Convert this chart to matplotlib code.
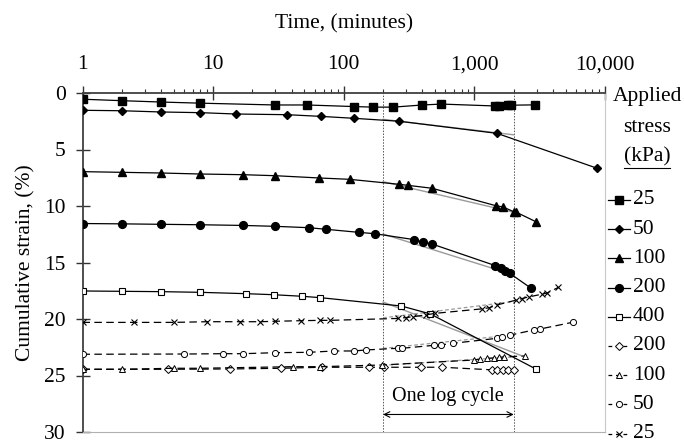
import matplotlib
matplotlib.use('Agg')
import matplotlib.pyplot as plt
from matplotlib.lines import Line2D
from matplotlib.ticker import FixedLocator, LogLocator, NullFormatter, FuncFormatter

plt.rcParams['font.family'] = ['Liberation Serif', 'DejaVu Serif']

# ---------------- data ----------------
# solid series (filled markers)
t25 = [1, 2, 4, 8, 30, 52, 120, 167, 240, 400, 560, 1450, 1550, 1800, 1900, 2900]
s25 = [0.55, 0.68, 0.8, 0.9, 1.06, 1.06, 1.2, 1.25, 1.25, 1.06, 0.98, 1.15, 1.15, 1.08, 1.08, 1.05]

t50 = [1, 2, 4, 8, 15, 37, 67, 120, 266, 1490, 8700]
s50 = [1.53, 1.57, 1.68, 1.74, 1.86, 1.92, 2.07, 2.24, 2.5, 3.57, 6.66]

t100 = [1, 2, 4, 8, 17, 30, 65, 111, 266, 309, 474, 1456, 1660, 1995, 2100, 2970]
s100 = [6.96, 7.02, 7.08, 7.17, 7.23, 7.32, 7.52, 7.64, 8.08, 8.17, 8.43, 9.97, 10.09, 10.5, 10.56, 11.4]

t200 = [1, 2, 4, 8, 17, 30, 54, 73, 130, 172, 348, 401, 473, 1450, 1585, 1730, 1865, 2735]
s200 = [11.55, 11.58, 11.62, 11.66, 11.72, 11.8, 11.92, 12.06, 12.33, 12.45, 12.98, 13.19, 13.36,
        15.28, 15.51, 15.75, 15.96, 17.3]

t400 = [1, 2, 4, 8, 18, 29, 48, 66, 276, 460, 2985]
s400 = [17.52, 17.55, 17.58, 17.64, 17.76, 17.85, 17.99, 18.11, 18.85, 19.55, 24.45]

# straight-line fits (grey) over one log cycle
fit_t = [200, 2000]
fit50 = [2.33, 3.7]
fit100 = [7.85, 10.55]
fit200 = [12.48, 16.1]
fit400_t = [200, 2300]
fit400 = [18.5, 23.25]
dfit25 = [19.9, 18.45]
dfit50 = [22.6, 21.4]
dfit100 = [24.1, 23.35]

# dashed series (open markers)
d25_t = [1, 2.5, 5, 9, 16, 23, 30, 47, 66, 78, 260, 300, 340, 430, 500, 1150, 1300, 1500, 2100,
         2300, 2600, 3300, 3600, 4400]
d25_s = [20.3, 20.3, 20.3, 20.24, 20.24, 20.24, 20.2, 20.15, 20.12, 20.12, 19.95, 19.87, 19.8,
         19.63, 19.5, 19.1, 19.0, 18.75, 18.32, 18.2, 18.05, 17.8, 17.7, 17.2]

d50_t = [1, 6, 12, 17, 30, 54, 84, 120, 148, 260, 279, 490, 556, 686, 1490, 1630, 1890, 2850,
         3200, 5660]
d50_s = [23.12, 23.1, 23.07, 23.07, 22.98, 22.95, 22.83, 22.83, 22.74, 22.59, 22.59, 22.33, 22.3,
         22.15, 21.71, 21.57, 21.42, 20.97, 20.88, 20.29]

d100_t = [1, 2, 5, 8, 41, 66, 196, 988, 1110, 1250, 1405, 1540, 1680, 2460]
d100_s = [24.45, 24.45, 24.36, 24.36, 24.22, 24.22, 24.07, 23.63, 23.55, 23.48, 23.45, 23.4,
          23.35, 23.27]

d200_t = [1, 4.5, 13.5, 33, 68, 155, 202, 390, 565, 1370, 1500, 1650, 1800, 2000]
d200_s = [24.45, 24.45, 24.42, 24.36, 24.27, 24.27, 24.27, 24.27, 24.27, 24.5, 24.5, 24.5,
          24.5, 24.5]

x_ticks = [1, 10, 100, 1000, 10000]
y_ticks = [0, 5, 10, 15, 20, 25, 30]
legend_title = ['Applied', 'stress', '(kPa)']
legend_labels = ['25', '50', '100', '200', '400', '200', '100', '50', '25']

# ---------------- figure ----------------
W, H = 684, 447
fig = plt.figure(figsize=(W / 100, H / 100), dpi=100)
x0, x1, y0, y1 = 82.5, 605, 93, 432
ax = fig.add_axes([x0 / W, 1 - y1 / H, (x1 - x0) / W, (y1 - y0) / H])

ax.set_xscale('log')
ax.set_xlim(1, 10000)
ax.set_ylim(30, 0)

FS = 15.5
lw = 0.9
dash = (0, (6, 3.5))

# styles
solid_styles = [
    dict(marker='s', ms=6, mfc='black', mec='black'),
    dict(marker='D', ms=4.2, mfc='black', mec='black'),
    dict(marker='^', ms=5.8, mfc='black', mec='black'),
    dict(marker='o', ms=5.6, mfc='black', mec='black'),
    dict(marker='s', ms=4.8, mfc='white', mec='black', mew=0.8),
]
dashed_styles = [
    dict(marker='D', ms=3.6, mfc='white', mec='black', mew=0.7),
    dict(marker='^', ms=4.6, mfc='white', mec='black', mew=0.7),
    dict(marker='o', ms=4.4, mfc='white', mec='black', mew=0.7),
    dict(marker='x', ms=4.8, mec='black', mew=0.8),
]

# grey fits first (behind)
for ft, fs in [(fit_t, fit50), (fit_t, fit100), (fit_t, fit200), (fit400_t, fit400)]:
    ax.plot(ft, fs, color='#9a9a9a', lw=1.0, zorder=2)
for fs in [dfit25, dfit50, dfit100]:
    ax.plot(fit_t, fs, color='#9a9a9a', lw=0.9, ls=(0, (3, 2)), zorder=2)

# solid series
for (tt, ss), st in zip([(t25, s25), (t50, s50), (t100, s100), (t200, s200), (t400, s400)],
                        solid_styles):
    ax.plot(tt, ss, '-', color='black', lw=lw, zorder=3, **st)

# dashed series
for (tt, ss), st in zip([(d200_t, d200_s), (d100_t, d100_s), (d50_t, d50_s), (d25_t, d25_s)],
                        dashed_styles):
    ax.plot(tt, ss, linestyle=dash, color='black', lw=lw, zorder=3, **st)

# vertical dotted lines and annotation
for v in fit_t:
    ax.axvline(v, color='#555555', lw=0.7, ls=(0, (1.5, 1.5)), zorder=1)
ax.annotate('', xy=(2000, 28.45), xytext=(200, 28.45),
            arrowprops=dict(arrowstyle='<->', lw=0.8, color='black', shrinkA=0, shrinkB=0,
                            mutation_scale=10))
ax.text(632, 26.9, 'One log cycle', ha='center', va='center', fontsize=14.5)

# axes styling
ax.xaxis.tick_top()
ax.xaxis.set_major_locator(FixedLocator(x_ticks))
ax.xaxis.set_major_formatter(FuncFormatter(lambda v, p: f'{int(round(v)):,}'))
ax.xaxis.set_minor_locator(LogLocator(base=10, subs=range(2, 10)))
ax.xaxis.set_minor_formatter(NullFormatter())
ax.tick_params(axis='x', which='major', direction='inout', length=10, width=1, pad=8.5,
               labelsize=FS, colors='#333333', labelcolor='black')
ax.tick_params(axis='x', which='minor', direction='out', length=3.2, width=0.8, colors='#333333')
ax.set_yticks(y_ticks)
ax.tick_params(axis='y', which='major', direction='inout', length=10, width=1, pad=7,
               labelsize=FS, colors='#333333', labelcolor='black')

fig.text((x0 + x1) / 2 / W, 1 - 28 / H, 'Time, (minutes)', ha='center', va='baseline', fontsize=FS)
fig.text(26 / W, 1 - (y0 + y1) / 2 / H, 'Cumulative strain, (%)', ha='center', va='center',
         rotation=90, fontsize=FS)

ax.spines['top'].set_color('#404040')
ax.spines['left'].set_color('#404040')
ax.spines['top'].set_linewidth(1.3)
ax.spines['left'].set_linewidth(1.3)
ax.spines['bottom'].set_color('#b0b0b0')
ax.spines['right'].set_color('#c8c8c8')
ax.spines['right'].set_linewidth(0.8)

# legend title
tx = 647 / W
for txt, yy in zip(legend_title, [97, 127, 157]):
    fig.text(tx, 1 - yy / H, txt, ha='center', va='center', fontsize=FS)
fig.add_artist(Line2D([624 / W, 670 / W], [1 - 168 / H, 1 - 168 / H], color='black', lw=0.8))

# legend entries (drawn manually)
hx0, hx1, tx0 = 608, 630, 633
styles = solid_styles + dashed_styles
for i, (lab, st) in enumerate(zip(legend_labels, styles)):
    yy = 1 - (200 + i * 29.2) / H
    ls = '-' if i < 5 else (0, (3, 3))
    fig.add_artist(Line2D([hx0 / W, (hx0 + hx1) / 2 / W, hx1 / W], [yy, yy, yy], color='black',
                          lw=lw, ls=ls, markevery=[1], **st))
    fig.text(tx0 / W, yy, lab, ha='left', va='center', fontsize=FS)

fig.savefig('out.png', dpi=100)
